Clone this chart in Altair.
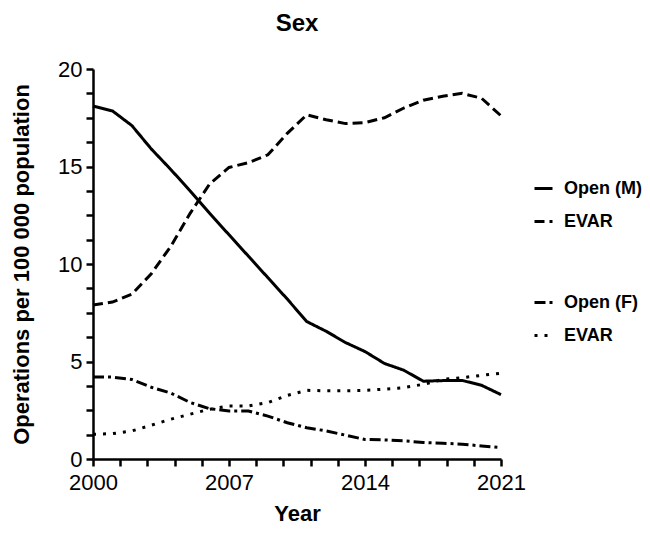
import altair as alt
import pandas as pd

years = list(range(2000, 2022))
open_m = [18.1, 17.85, 17.1, 15.9, 14.85, 13.75, 12.6, 11.5, 10.4, 9.3, 8.2, 7.05,
          6.55, 5.97, 5.51, 4.9, 4.55, 3.99, 4.02, 4.03, 3.78, 3.3]
evar_m = [7.9, 8.05, 8.45, 9.5, 10.9, 12.6, 14.1, 14.95, 15.2, 15.6, 16.7, 17.65,
          17.4, 17.2, 17.25, 17.5, 18.0, 18.4, 18.6, 18.75, 18.5, 17.6]
open_f = [4.2, 4.2, 4.08, 3.68, 3.38, 2.9, 2.58, 2.46, 2.46, 2.2, 1.86, 1.6,
          1.44, 1.22, 1.0, 0.98, 0.93, 0.85, 0.81, 0.76, 0.67, 0.58]
evar_f = [1.27, 1.3, 1.44, 1.73, 2.04, 2.3, 2.55, 2.72, 2.72, 2.89, 3.26, 3.52,
          3.5, 3.5, 3.52, 3.58, 3.66, 3.83, 4.08, 4.17, 4.29, 4.4]

x_ticks = [round(2000 + 1.4 * i, 1) for i in range(16)]
y_ticks = [1.25 * i for i in range(17)]

FONT = "Liberation Sans"

rows = []
for name, grp, vals in [("Open (M)", "M", open_m), ("EVAR", "M", evar_m),
                        ("Open (F)", "F", open_f), ("EVAR", "F", evar_f)]:
    for y, v in zip(years, vals):
        rows.append({"Year": y, "Value": v, "Series": name, "Group": grp})
df = pd.DataFrame(rows)

x_enc = alt.X("Year:Q",
              scale=alt.Scale(domain=[2000, 2021], nice=False, zero=False),
              axis=alt.Axis(values=x_ticks, title="Year", labelFlush=False,
                            labelExpr="(datum.value - 2000) % 7 == 0 ? format(datum.value, 'd') : ''",
                            labelPadding=6, titlePadding=10))
y_enc = alt.Y("Value:Q",
              scale=alt.Scale(domain=[0, 20], nice=False),
              axis=alt.Axis(values=y_ticks, title="Operations per 100 000 population",
                            labelFlush=False,
                            labelExpr="datum.value % 5 == 0 ? format(datum.value, 'd') : ''",
                            labelPadding=4, titlePadding=24))

legend_common = dict(
    title=None, orient="none", symbolType="stroke", symbolSize=324,
    symbolStrokeWidth=3, symbolStrokeColor="black", labelFont=FONT,
    labelFontSize=18, labelFontWeight="bold", labelColor="black",
    labelOffset=10, rowPadding=13, padding=0, labelLimit=300,
)

male = alt.Chart(df).transform_filter(alt.datum.Group == "M").mark_line(
    color="black", strokeWidth=3, strokeCap="butt"
).encode(
    x=x_enc, y=y_enc,
    strokeDash=alt.StrokeDash(
        "Series:N",
        scale=alt.Scale(domain=["Open (M)", "EVAR"], range=[[1, 0], [10, 5]]),
        sort=["Open (M)", "EVAR"],
        legend=alt.Legend(legendX=440, legendY=109, **legend_common),
    ),
)

female = alt.Chart(df).transform_filter(alt.datum.Group == "F").mark_line(
    color="black", strokeWidth=3, strokeCap="butt"
).encode(
    x=x_enc, y=y_enc,
    strokeDash=alt.StrokeDash(
        "Series:N",
        scale=alt.Scale(domain=["Open (F)", "EVAR"], range=[[11, 4, 3, 4], [3, 7]]),
        sort=["Open (F)", "EVAR"],
        legend=alt.Legend(legendX=440, legendY=223, **legend_common),
    ),
)

chart = alt.layer(male, female).resolve_scale(
    strokeDash="independent"
).resolve_legend(
    strokeDash="independent"
).properties(
    width=408, height=390,
    autosize=alt.AutoSizeParams(type="none"),
    padding={"left": 85, "top": 61, "right": 141, "bottom": 66},
    title=alt.TitleParams("Sex", font=FONT, fontSize=24, fontWeight="bold",
                          color="black", anchor="middle", offset=22),
).configure_view(stroke=None).configure_axis(
    domainColor="black", domainWidth=2.5, tickColor="black", tickWidth=2.5,
    tickSize=7, grid=False, labelFont=FONT, labelFontSize=22, labelColor="black",
    titleFont=FONT, titleFontSize=22, titleFontWeight="bold",
    titleColor="black",
)

chart.save("out.html", embed_options={"renderer": "svg", "actions": False})
